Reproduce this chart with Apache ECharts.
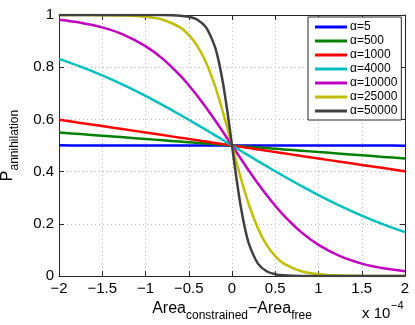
<!DOCTYPE html>
<html>
<head>
<meta charset="utf-8">
<script src="https://cdn.jsdelivr.net/npm/echarts@6/dist/echarts.min.js"></script>
<style>
  html, body { margin: 0; padding: 0; background: #fff; }
  #chart { width: 415px; height: 325px; }
</style>
</head>
<body>
<div id="chart"></div>
<script>
// x values, in units of 1e-4
const xs = [-2, -1.75, -1.5, -1.25, -1, -0.8, -0.6, -0.5, -0.4, -0.3, -0.2, -0.15, -0.1, -0.05, 0,
  0.05, 0.1, 0.15, 0.2, 0.3, 0.4, 0.5, 0.6, 0.8, 1, 1.25, 1.5, 1.75, 2]

const seriesNames = ['α=5', 'α=500', 'α=1000', 'α=4000', 'α=10000', 'α=25000', 'α=50000']
const colors = ['#0000ff', '#008000', '#ff0000', '#00bfbf', '#bf00bf', '#bfbf00', '#404040']

const a5 = [0.5005, 0.5004, 0.5004, 0.5003, 0.5003, 0.5002, 0.5002, 0.5001, 0.5001, 0.5001, 0.5001, 0.5, 0.5, 0.5, 0.5,
  0.5, 0.5, 0.5, 0.4999, 0.4999, 0.4999, 0.4999, 0.4998, 0.4998, 0.4997, 0.4997, 0.4996, 0.4996, 0.4995]
const a500 = [0.5498, 0.5436, 0.5374, 0.5312, 0.525, 0.52, 0.515, 0.5125, 0.51, 0.5075, 0.505, 0.5038, 0.5025, 0.5013, 0.5,
  0.4987, 0.4975, 0.4962, 0.495, 0.4925, 0.49, 0.4875, 0.485, 0.48, 0.475, 0.4688, 0.4626, 0.4564, 0.4502]
const a1000 = [0.5987, 0.5866, 0.5744, 0.5622, 0.5498, 0.5399, 0.53, 0.525, 0.52, 0.515, 0.51, 0.5075, 0.505, 0.5025, 0.5,
  0.4975, 0.495, 0.4925, 0.49, 0.485, 0.48, 0.475, 0.47, 0.4601, 0.4502, 0.4378, 0.4256, 0.4134, 0.4013]
const a4000 = [0.832, 0.8022, 0.7685, 0.7311, 0.69, 0.6548, 0.6177, 0.5987, 0.5793, 0.5597, 0.5399, 0.53, 0.52, 0.51, 0.5,
  0.49, 0.48, 0.47, 0.4601, 0.4403, 0.4207, 0.4013, 0.3823, 0.3452, 0.31, 0.2689, 0.2315, 0.1978, 0.168]
const a10000 = [0.982, 0.9707, 0.9526, 0.9241, 0.8808, 0.832, 0.7685, 0.7311, 0.69, 0.6457, 0.5987, 0.5744, 0.5498, 0.525, 0.5,
  0.475, 0.4502, 0.4256, 0.4013, 0.3543, 0.31, 0.2689, 0.2315, 0.168, 0.1192, 0.0759, 0.0474, 0.0293, 0.018]
const a25000 = [0.99995, 0.99984, 0.99945, 0.99807, 0.99331, 0.982, 0.9526, 0.9241, 0.8808, 0.8176, 0.7311, 0.6792, 0.6225, 0.5622, 0.5,
  0.4378, 0.3775, 0.3208, 0.2689, 0.1824, 0.1192, 0.0759, 0.0474, 0.018, 0.0067, 0.0019, 0.0006, 0.0002, 0.0001]
const a50000 = [1, 1, 1, 1, 0.99995, 0.99966, 0.99753, 0.99331, 0.982, 0.9526, 0.8808, 0.8176, 0.7311, 0.6225, 0.5,
  0.3775, 0.2689, 0.1824, 0.1192, 0.0474, 0.018, 0.0067, 0.0025, 0.0003, 0.0001, 0, 0, 0, 0]

const allValues = [a5, a500, a1000, a4000, a10000, a25000, a50000]

const FONT = '"Liberation Sans", Arial, sans-serif'
const AXIS_COLOR = '#262626'

const chart = echarts.init(document.getElementById('chart'), null, { renderer: 'canvas' })

const gridLine = { show: true, lineStyle: { color: '#bcbcbc', type: [1, 3], width: 1 } }
const axisLine = { show: true, onZero: false, lineStyle: { color: AXIS_COLOR } }
const axisTick = { show: true, inside: true, length: 5, lineStyle: { color: AXIS_COLOR } }

const option = {
  animation: false,
  backgroundColor: '#fff',
  grid: { left: 59, right: 10, top: 15, bottom: 49, outerBoundsMode: 'none' },
  legend: {
    orient: 'vertical',
    left: 308,
    top: 17,
    padding: [4, 4, 3, 7],
    itemGap: 2,
    itemWidth: 32,
    itemHeight: 3,
    icon: 'rect',
    borderColor: AXIS_COLOR,
    borderWidth: 1,
    backgroundColor: '#fff',
    textStyle: { fontSize: 12, fontFamily: FONT, color: '#000', padding: [0, 0, 0, -2] },
    data: seriesNames
  },
  xAxis: [
    {
      type: 'value',
      min: -2,
      max: 2,
      interval: 0.5,
      axisLine: axisLine,
      axisTick: axisTick,
      axisLabel: {
        margin: 5, fontSize: 15, fontFamily: FONT, color: '#000',
        formatter: v => (v < 0 ? '\u2212' + (-v) : String(v))
      },
      splitLine: gridLine,
      name: '{a|Area}{s|constrained}{a|\u2212Area}{s|free}',
      nameLocation: 'middle',
      nameGap: 21,
      nameTextStyle: {
        fontFamily: FONT, color: '#000',
        rich: {
          a: { fontSize: 16, fontFamily: FONT, color: '#000', lineHeight: 18, verticalAlign: 'top' },
          s: { fontSize: 12, fontFamily: FONT, color: '#000', lineHeight: 12, padding: [9, 0, 0, 0], verticalAlign: 'top' }
        }
      }
    },
    {
      type: 'value',
      position: 'top',
      min: -2,
      max: 2,
      interval: 0.5,
      axisLine: axisLine,
      axisTick: axisTick,
      axisLabel: { show: false },
      splitLine: { show: false }
    }
  ],
  yAxis: [
    {
      type: 'value',
      min: 0,
      max: 1,
      interval: 0.2,
      axisLine: axisLine,
      axisTick: axisTick,
      axisLabel: { margin: 5, fontSize: 15, fontFamily: FONT, color: '#000' },
      splitLine: gridLine,
      name: '{a|P}{s|annihilation}',
      nameLocation: 'middle',
      nameRotate: 90,
      nameGap: 41,
      nameTextStyle: {
        fontFamily: FONT, color: '#000',
        rich: {
          a: { fontSize: 16, fontFamily: FONT, color: '#000', lineHeight: 18, verticalAlign: 'top' },
          s: { fontSize: 12, fontFamily: FONT, color: '#000', lineHeight: 12, padding: [9, 0, 0, 0], verticalAlign: 'top' }
        }
      }
    },
    {
      type: 'value',
      position: 'right',
      min: 0,
      max: 1,
      interval: 0.2,
      axisLine: axisLine,
      axisTick: axisTick,
      axisLabel: { show: false },
      splitLine: { show: false }
    }
  ],
  graphic: [
    { type: 'text', left: 362, top: 306, style: { text: 'x 10', fontSize: 15, fontFamily: FONT, fill: '#000' } },
    { type: 'text', left: 391, top: 300, style: { text: '\u22124', fontSize: 11, fontFamily: FONT, fill: '#000' } }
  ],
  series: seriesNames.map((name, i) => ({
    name: name,
    type: 'line',
    data: xs.map((x, j) => [x, allValues[i][j]]),
    showSymbol: false,
    symbol: 'none',
    smooth: 0.3,
    color: colors[i],
    lineStyle: { color: colors[i], width: 2.5 },
    z: 2 + i
  }))
}

chart.setOption(option)
</script>
</body>
</html>
